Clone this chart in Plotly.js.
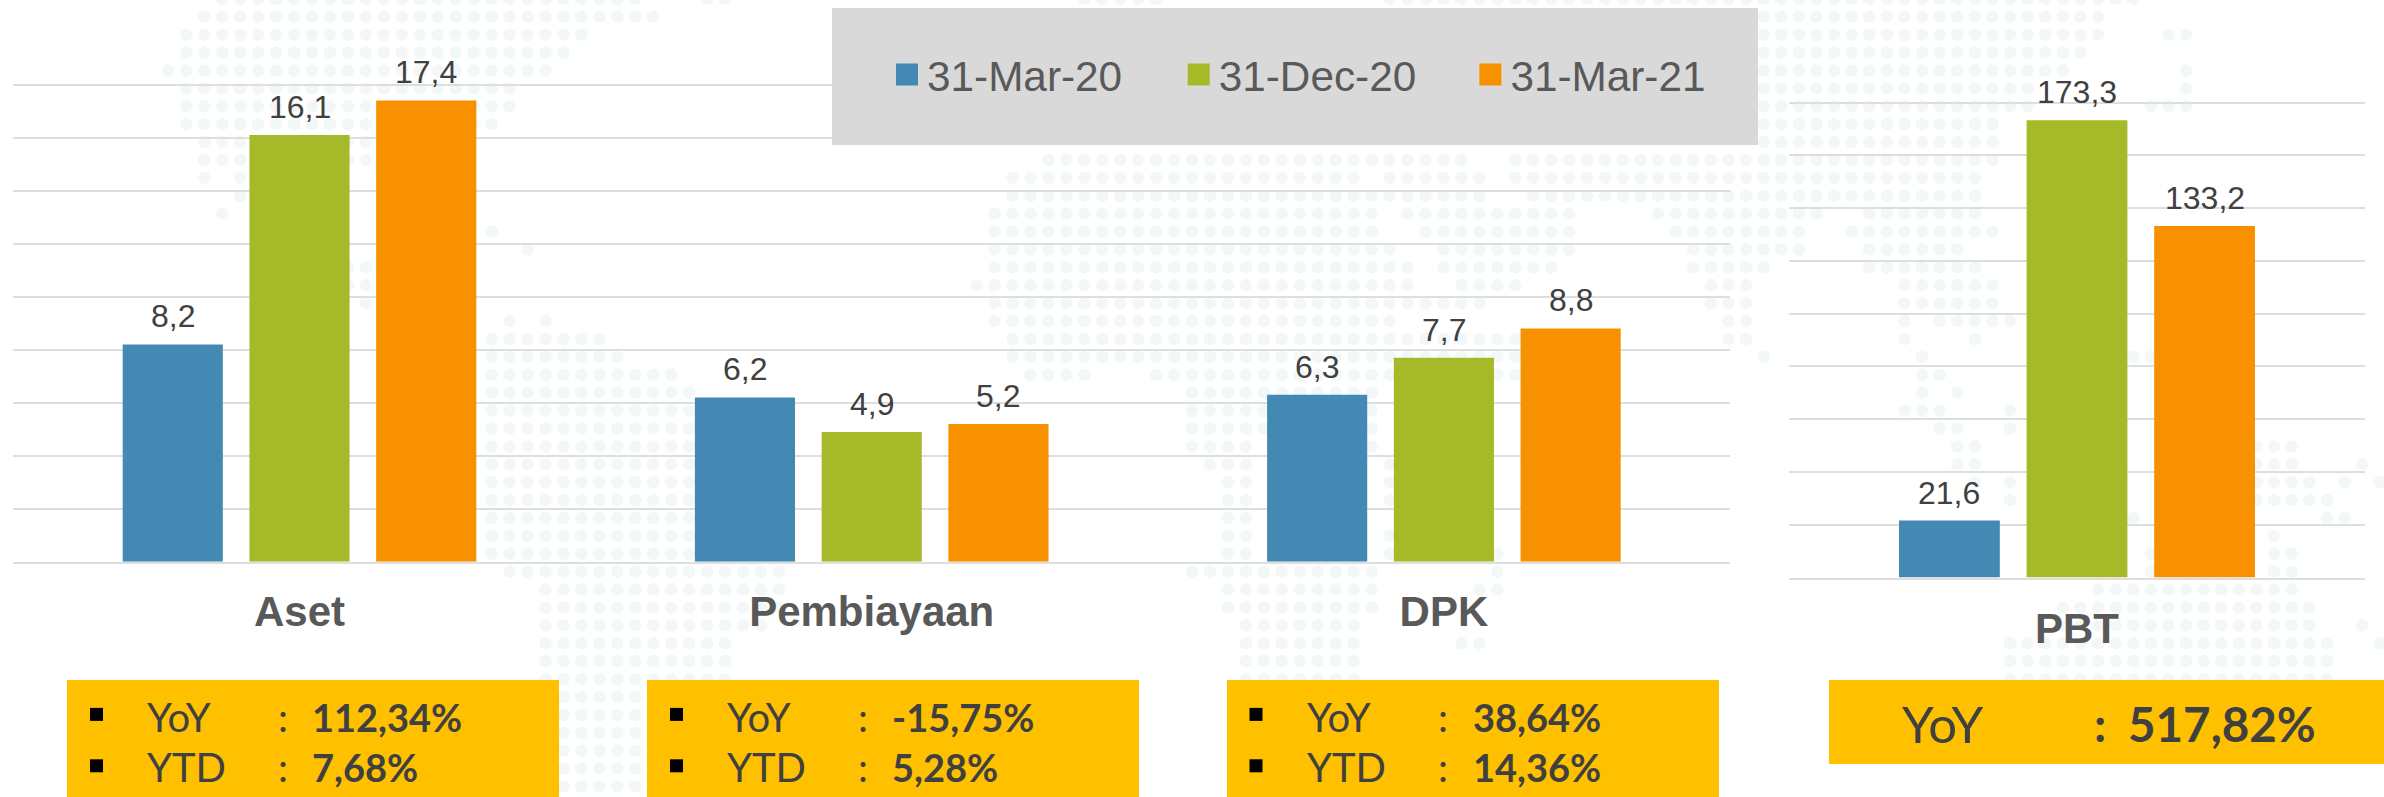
<!DOCTYPE html>
<html><head><meta charset="utf-8">
<script src="https://cdn.plot.ly/plotly-3.0.1.min.js"></script>
<style>html,body{margin:0;padding:0;background:#fff;overflow:hidden}#c{width:2384px;height:797px}
.legend .legendpoints path{d:path("M11,11H-11V-11H11Z")}</style>
</head><body><div id="c"></div>
<script>
// ---------- data ----------
const categoriesLeft = ['Aset','Pembiayaan','DPK'];
const categoriesRight = ['PBT'];
const seriesNames = ['31-Mar-20','31-Dec-20','31-Mar-21'];
const seriesColors = ['#4389B3','#A6B928','#F79100'];
const mar20 = [8.2,6.2,6.3];
const dec20 = [16.1,4.9,7.7];
const mar21 = [17.4,5.2,8.8];
const pbtMar20 = [21.6];
const pbtDec20 = [173.3];
const pbtMar21 = [133.2];
const yoyValues = ['112,34%','-15,75%','38,64%'];
const ytdValues = ['7,68%','5,28%','14,36%'];
const pbtYoy = '517,82%';
// decorative dot map: [row, firstCol, lastCol]
const dotRuns = [
[0,12,35],[0,39,40],[0,60,64],[0,77,119],
[1,11,36],[1,98,117],[2,10,32],[2,98,117],[2,121,122],[3,10,31],[3,98,116],
[4,9,30],[4,98,115],[4,122,122],[5,10,28],[5,98,113],[5,122,122],[6,10,28],[6,98,113],[6,120,122],
[7,10,27],[7,98,111],[8,11,20],[8,98,111],
[9,11,20],[9,58,76],[9,77,81],[9,84,111],
[10,11,11],[10,13,13],[10,56,75],[10,77,82],[10,84,110],
[11,13,13],[11,56,76],[11,77,82],[11,85,110],
[12,12,12],[12,55,76],[12,78,87],[12,92,101],[12,104,110],
[13,27,27],[13,55,76],[13,79,87],[13,93,100],[13,103,111],
[14,29,29],[14,55,77],[14,80,87],[14,94,100],[14,104,109],
[15,19,20],[15,55,78],[15,80,86],[15,94,98],[15,104,110],
[16,19,20],[16,54,78],[16,81,84],[16,95,97],[16,106,111],
[17,20,20],[17,55,82],[17,95,97],[17,106,111],
[18,28,28],[18,30,30],[18,55,77],[18,96,97],[18,106,106],[18,108,112],
[19,27,33],[19,56,84],[19,96,97],[19,106,106],[19,110,110],
[20,27,34],[20,56,84],[20,98,98],[20,107,107],[20,119,120],
[21,27,37],[21,57,60],[21,64,84],[21,107,108],
[22,27,38],[22,66,76],[22,107,107],[22,109,109],
[23,27,38],[23,66,76],[23,106,108],[23,112,112],
[24,27,38],[24,66,71],[24,75,76],[24,108,109],[24,112,112],
[25,27,38],[25,66,69],[25,75,76],[25,109,110],[25,126,128],
[26,27,38],[26,67,69],[26,77,77],[26,109,110],[26,126,128],[26,132,132],
[27,27,38],[27,68,69],[27,77,77],[27,110,110],[27,112,112],[27,126,129],[27,131,131],[27,133,133],
[28,27,38],[28,68,69],[28,77,77],[28,112,112],[28,126,130],
[29,27,38],[29,68,69],[29,119,119],[29,130,131],
[30,27,38],[30,68,69],[30,77,77],[30,127,127],
[31,27,39],[31,68,69],[31,77,77],[31,83,83],[31,120,120],[31,127,128],
[32,28,43],[32,66,76],[32,83,83],[32,120,120],[32,127,128],
[33,30,43],[33,68,76],[33,82,83],[33,117,128],
[34,30,43],[34,68,76],[34,115,129],
[35,30,42],[35,69,75],[35,115,129],[35,132,132],
[36,30,40],[36,69,75],[36,81,82],[36,112,130],[36,133,133],
[37,30,40],[37,69,75],[37,112,130],
[38,30,40],[38,69,75],[38,112,130],
[39,31,35],[40,31,35],[41,31,35],[42,31,35],[43,31,35],[44,31,35]
];
// ---------- page geometry (pixels in 2384x797) ----------
const W=2384,H=797;
const dotX=[],dotY=[];
dotRuns.forEach(([r,a,b])=>{for(let k=a;k<=b;k++){dotX.push(k<88.7?6.7+17.96*k:1600+(k-88.7)*17.6);dotY.push(-1.1+17.9*r);}});
const slot=0.2215;
const leftSeries=[mar20,dec20,mar21], rightSeries=[pbtMar20,pbtDec20,pbtMar21];
const traces=[{type:'scatter',mode:'markers',x:dotX,y:dotY,xaxis:'x',yaxis:'y',showlegend:false,hoverinfo:'skip',
  marker:{size:12.5,color:'#F2F8F7',line:{width:0}}}];
seriesNames.forEach((n,j)=>{
  traces.push({type:'bar',name:n,x:categoriesLeft,y:leftSeries[j],xaxis:'x2',yaxis:'y2',marker:{color:seriesColors[j]},hoverinfo:'skip'});
});
seriesNames.forEach((n,j)=>{
  traces.push({type:'bar',name:n,x:categoriesRight,y:rightSeries[j],xaxis:'x3',yaxis:'y3',marker:{color:seriesColors[j]},showlegend:false,hoverinfo:'skip'});
});
const comma=v=>v.toFixed(1).replace('.',',');
const annotations=[];
const valueLabel=(x,y,xr,yr,v)=>annotations.push({x,y,xref:xr,yref:yr,text:comma(v),showarrow:false,yanchor:'bottom',xanchor:'center',yshift:8,
  font:{family:'Liberation Sans',size:32,color:'#404040'}});
leftSeries.forEach((s,j)=>s.forEach((v,i)=>valueLabel(i+(j-1)*slot,v,'x2','y2',v)));
rightSeries.forEach((s,j)=>s.forEach((v,i)=>valueLabel(i+(j-1)*slot,v,'x3','y3',v)));
const kpiFont={family:'Lato',size:40,color:'#404040'};
const kpiBold={family:'Lato',size:38,color:'#404040',weight:'bold'};
const label=(x,y,t,f)=>annotations.push({x,y,xref:'x',yref:'y',text:t,showarrow:false,xanchor:'left',yanchor:'middle',font:f});
const boxes=[[67,559,90,145,276,310],[647,1139,670,725,856,890],[1227,1719,1249.5,1304.6,1436,1470.5]];
const shapes=[{type:'rect',xref:'x',yref:'y',x0:832,x1:1758,y0:8,y1:145,fillcolor:'#D9D9D9',line:{width:0},layer:'above'}];
boxes.forEach((b,i)=>{
  shapes.push({type:'rect',xref:'x',yref:'y',x0:b[0],x1:b[1],y0:680,y1:797,fillcolor:'#FFC000',line:{width:0},layer:'above'});
  [714.4,765.8].forEach(cy=>shapes.push({type:'rect',xref:'x',yref:'y',x0:b[2],x1:b[2]+13,y0:cy-6.5,y1:cy+6.5,fillcolor:'#000',line:{width:0},layer:'above'}));
  label(b[3],717,'YoY',kpiFont);label(b[3],767,'YTD',kpiFont);
  label(b[4],717,':',kpiFont);label(b[4],767,':',kpiFont);
  label(b[5],717,yoyValues[i],kpiBold);label(b[5],767,ytdValues[i],kpiBold);
});
shapes.push({type:'rect',xref:'x',yref:'y',x0:1829,x1:2384,y0:680,y1:764,fillcolor:'#FFC000',line:{width:0},layer:'above'});
label(1900,723,'YoY',{family:'Lato',size:51,color:'#404040'});
label(2092,723,':',{family:'Lato',size:48,color:'#404040',weight:'bold'});
label(2126,723,pbtYoy,{family:'Lato',size:47.5,color:'#404040',weight:'bold'});

const grid={showgrid:true,gridcolor:'#DEDEDE',gridwidth:2,zeroline:false,showticklabels:false,ticks:'',showline:false};
const catAxis={type:'category',showgrid:false,zeroline:false,showline:true,linecolor:'#DEDEDE',linewidth:2,ticks:'',
  tickfont:{family:'Liberation Sans',size:42,color:'#595959',weight:'bold'}};
const layout={width:W,height:H,margin:{l:0,r:0,t:0,b:0},paper_bgcolor:'#fff',plot_bgcolor:'rgba(0,0,0,0)',
  barmode:'group',bargap:0.3355,bargroupgap:0.21,hovermode:false,separators:', ',
  xaxis:{domain:[0,1],range:[0,W],visible:false,fixedrange:true},
  yaxis:{domain:[0,1],range:[H,0],visible:false,fixedrange:true},
  xaxis2:Object.assign({},catAxis,{domain:[13.4/W,1730/W],anchor:'y2',ticklabelstandoff:12}),
  yaxis2:Object.assign({},grid,{domain:[(H-561.8)/H,(H-31.5)/H],range:[0,20],dtick:2,anchor:'x2'}),
  xaxis3:Object.assign({},catAxis,{domain:[1789/W,2365/W],anchor:'y3',ticklabelstandoff:13}),
  yaxis3:Object.assign({},grid,{domain:[(H-577.5)/H,(H-49.8)/H],range:[0,200],dtick:20,anchor:'x3'}),
  legend:{orientation:'h',x:887/W,y:(H-74.5)/H,xanchor:'left',yanchor:'middle',bgcolor:'rgba(0,0,0,0)',
    font:{family:'Liberation Sans',size:42.3,color:'#595959'},entrywidth:246.7,entrywidthmode:'pixels',itemwidth:30,traceorder:'normal'},
  shapes,annotations};
Plotly.newPlot('c',traces,layout,{staticPlot:true,displayModeBar:false});
</script></body></html>
